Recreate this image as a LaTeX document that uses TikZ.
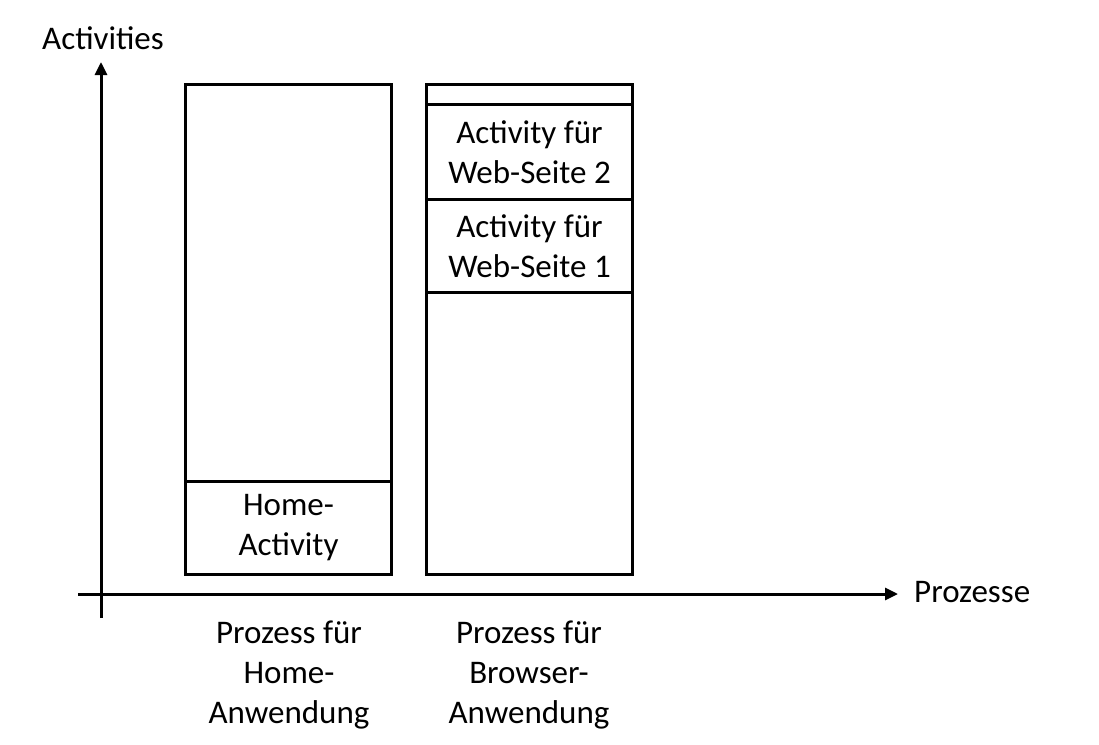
\documentclass[tikz,border=0pt]{standalone}
\usepackage{fontspec}
\setmainfont{Carlito}
\usetikzlibrary{arrows.meta}
\begin{document}
\begin{tikzpicture}[x=1pt,y=-1pt,
  every node/.style={font=\fontsize{33}{40}\selectfont, align=center, inner sep=0pt},
  lane/.style={draw, line width=3pt, minimum width=206pt, anchor=north west},
  axis/.style={line width=3pt, -{Triangle[length=13pt,width=12pt]}}]
\useasboundingbox (0,0) rectangle (1099,744);

% axes
\coordinate (o) at (101,594);
\coordinate (ytop) at (101,62);
\coordinate (ybot) at (101,618);
\coordinate (xleft) at (78,594);
\coordinate (xright) at (898,594);
\draw[axis] (ybot) -- (ytop);
\draw[axis] (xleft) -- (xright);
\node (ylab) at (103,38) {Activities};
\node[anchor=west] (xlab) at (914,592) {Prozesse};

% home process column
\node[lane, minimum height=397pt] (homefree) at (184,83) {};
\node[lane, minimum height=93pt] (homeact) at (184,480) {Home-\\Activity};

% browser process column
\node[lane, minimum height=20pt] (brtop) at (425,83) {};
\node[lane, minimum height=95pt] (web2) at (425,103) {Activity für\\Web-Seite 2};
\node[lane, minimum height=93pt] (web1) at (425,198) {Activity für\\Web-Seite 1};
\node[lane, minimum height=282pt] (brfree) at (425,291) {};

% column labels
\node[anchor=north] (homelab) at (289,621) {Prozess für\\Home-\\Anwendung};
\node[anchor=north] (brlab) at (529,621) {Prozess für\\Browser-\\Anwendung};
\end{tikzpicture}
\end{document}
